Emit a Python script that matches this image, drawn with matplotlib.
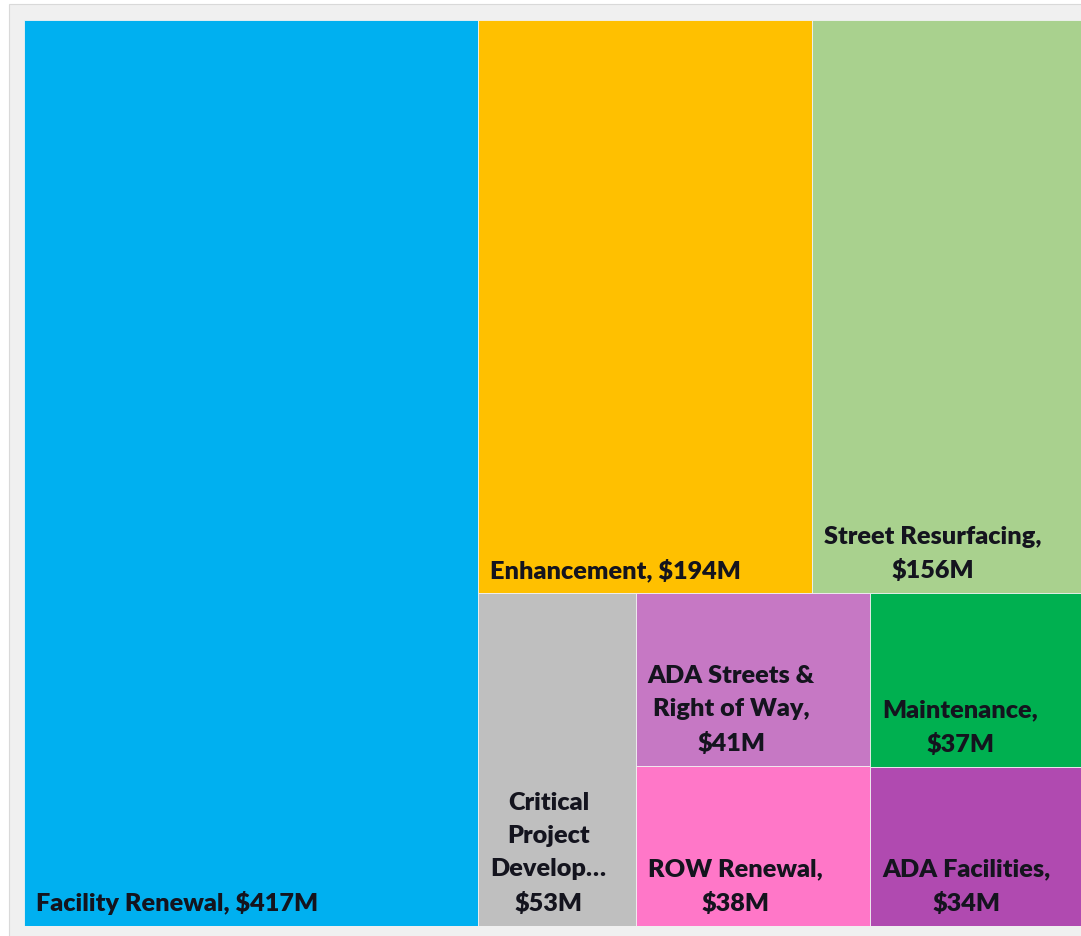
import matplotlib
matplotlib.use("Agg")
import matplotlib.pyplot as plt
from matplotlib.patches import Rectangle

# ---- data ----
categories = ["Facility Renewal", "Enhancement", "Street Resurfacing",
              "Critical Project Develop…", "ADA Streets & Right of Way",
              "ROW Renewal", "Maintenance", "ADA Facilities"]
values = [417, 194, 156, 53, 41, 38, 37, 34]
labels = ["Facility Renewal, $417M",
          "Enhancement, $194M",
          "Street Resurfacing,\n$156M",
          "Critical\nProject\nDevelop…\n$53M",
          "ADA Streets &\nRight of Way,\n$41M",
          "ROW Renewal,\n$38M",
          "Maintenance,\n$37M",
          "ADA Facilities,\n$34M"]
colors = ["#00B0F0", "#FFC000", "#A9D18E", "#BFBFBF",
          "#C678C4", "#FF77C8", "#00B050", "#B04AB0"]

# layout tree (indices into the arrays): 'h' = side by side, 'v' = stacked top->bottom
layout = ("h", [0, ("v", [("h", [1, 2]),
                          ("h", [3, ("v", [4, 5]), ("v", [6, 7])])])])

def total(node):
    if isinstance(node, int):
        return values[node]
    return sum(total(c) for c in node[1])

rects = {}
def place(node, x, y, w, h):
    if isinstance(node, int):
        rects[node] = (x, y - h, w, h)
        return
    d, children = node
    t = total(node)
    if d == "h":
        cx = x
        for c in children:
            cw = w * total(c) / t
            place(c, cx, y, cw, h)
            cx += cw
    else:
        cy = y
        for c in children:
            ch = h * total(c) / t
            place(c, x, cy, w, ch)
            cy -= ch

W, H = 1081, 936
fig = plt.figure(figsize=(W / 100, H / 100), dpi=100)
fig.patch.set_facecolor("white")

bg = fig.add_axes([0, 0, 1, 1], zorder=0)
bg.set_xlim(0, W)
bg.set_ylim(0, H)
bg.axis("off")
bg.add_patch(Rectangle((9, -2), W, H - 4 + 2, facecolor="#F0F0F0",
                       edgecolor="#D9D9D9", linewidth=0.8))

left, bottom, right, top = 24, 10, 1081, 20
ax = fig.add_axes([left / W, bottom / H, (right - left) / W, (H - top - bottom) / H], zorder=1)
ax.set_xlim(0, 1)
ax.set_ylim(0, 1)
ax.axis("off")

place(layout, 0, 1, 1, 1)

for i in range(len(values)):
    x, y, w, h = rects[i]
    ax.add_patch(Rectangle((x, y), w, h, facecolor=colors[i],
                           edgecolor="#F2F2F2", linewidth=0.6))
    ax.annotate(labels[i], xy=(x, y), xytext=(12, 11), textcoords="offset pixels",
                ha="left", va="bottom", multialignment="center",
                fontsize=18.2, fontweight="heavy", family="Lato",
                color="#14141E", linespacing=1.62)

fig.savefig("out.png", dpi=100)
